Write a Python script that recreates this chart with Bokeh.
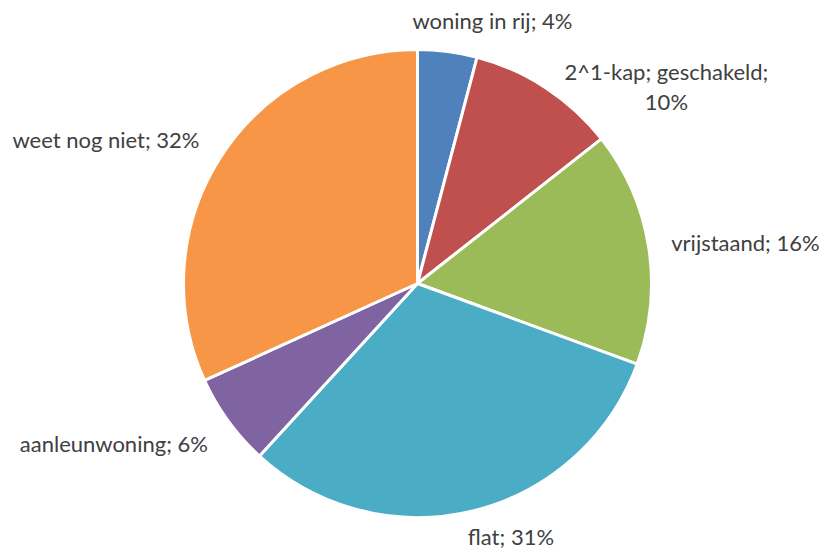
import math
from bokeh.plotting import figure
from bokeh.models import Range1d, ColumnDataSource
from bokeh.core.properties import value
from bokeh.embed import file_html
from bokeh.resources import INLINE

# data
categories = ["woning in rij", "2^1-kap; geschakeld", "vrijstaand", "flat", "aanleunwoning", "weet nog niet"]
shares = [4.1, 10.3, 16.2, 31.2, 6.4, 31.8]
pct_labels = ["4%", "10%", "16%", "31%", "6%", "32%"]

# styles
colors = ["#4F81BD", "#C0504D", "#9BBB59", "#4BACC6", "#8064A2", "#F79646"]
label_text = [
    "woning in rij; 4%",
    "2^1-kap; geschakeld;\n10%",
    "vrijstaand; 16%",
    "flat; 31%",
    "aanleunwoning; 6%",
    "weet nog niet; 32%",
]
label_align = ["center", "center", "left", "center", "right", "right"]
label_nudge = [(41, -1), (104, 24), (-7, 0), (31, -4), (4, 5), (4, -1)]  # pixel nudges (dx, dy down)

W, H = 824, 552
cx_pix, cy_pix, R = 417, 283, 234
gap = 30

p = figure(width=W, height=H, output_backend="svg", toolbar_location=None,
           x_range=Range1d(0, W), y_range=Range1d(0, H),
           min_border=0)
p.axis.visible = False
p.grid.visible = False
p.outline_line_color = None
p.background_fill_color = "white"

cx, cy = cx_pix, H - cy_pix
total = sum(shares)
starts, ends, lx, ly = [], [], [], []
acc = 0.0
for i, s in enumerate(shares):
    t1 = acc / total * 2 * math.pi
    acc += s
    t2 = acc / total * 2 * math.pi
    starts.append(math.pi / 2 - t2)
    ends.append(math.pi / 2 - t1)
    tm = (t1 + t2) / 2
    ax = cx + (R + gap) * math.sin(tm) + label_nudge[i][0]
    ay = cy + (R + gap) * math.cos(tm) - label_nudge[i][1]
    lx.append(ax)
    ly.append(ay)

src = ColumnDataSource(dict(start=starts, end=ends, color=colors, cat=categories))
p.wedge(x=cx, y=cy, radius=R, start_angle="start", end_angle="end", source=src,
        fill_color="color", line_color="white", line_width=3)

lsrc = ColumnDataSource(dict(x=lx, y=ly, text=label_text, align=label_align))
p.text(x="x", y="y", text="text", source=lsrc, text_align="align", text_baseline="middle",
       text_font=value("Lato"), text_font_size="22px", text_color="#404040",
       text_line_height=1.1)

open("out.html", "w").write(file_html(p, INLINE))
